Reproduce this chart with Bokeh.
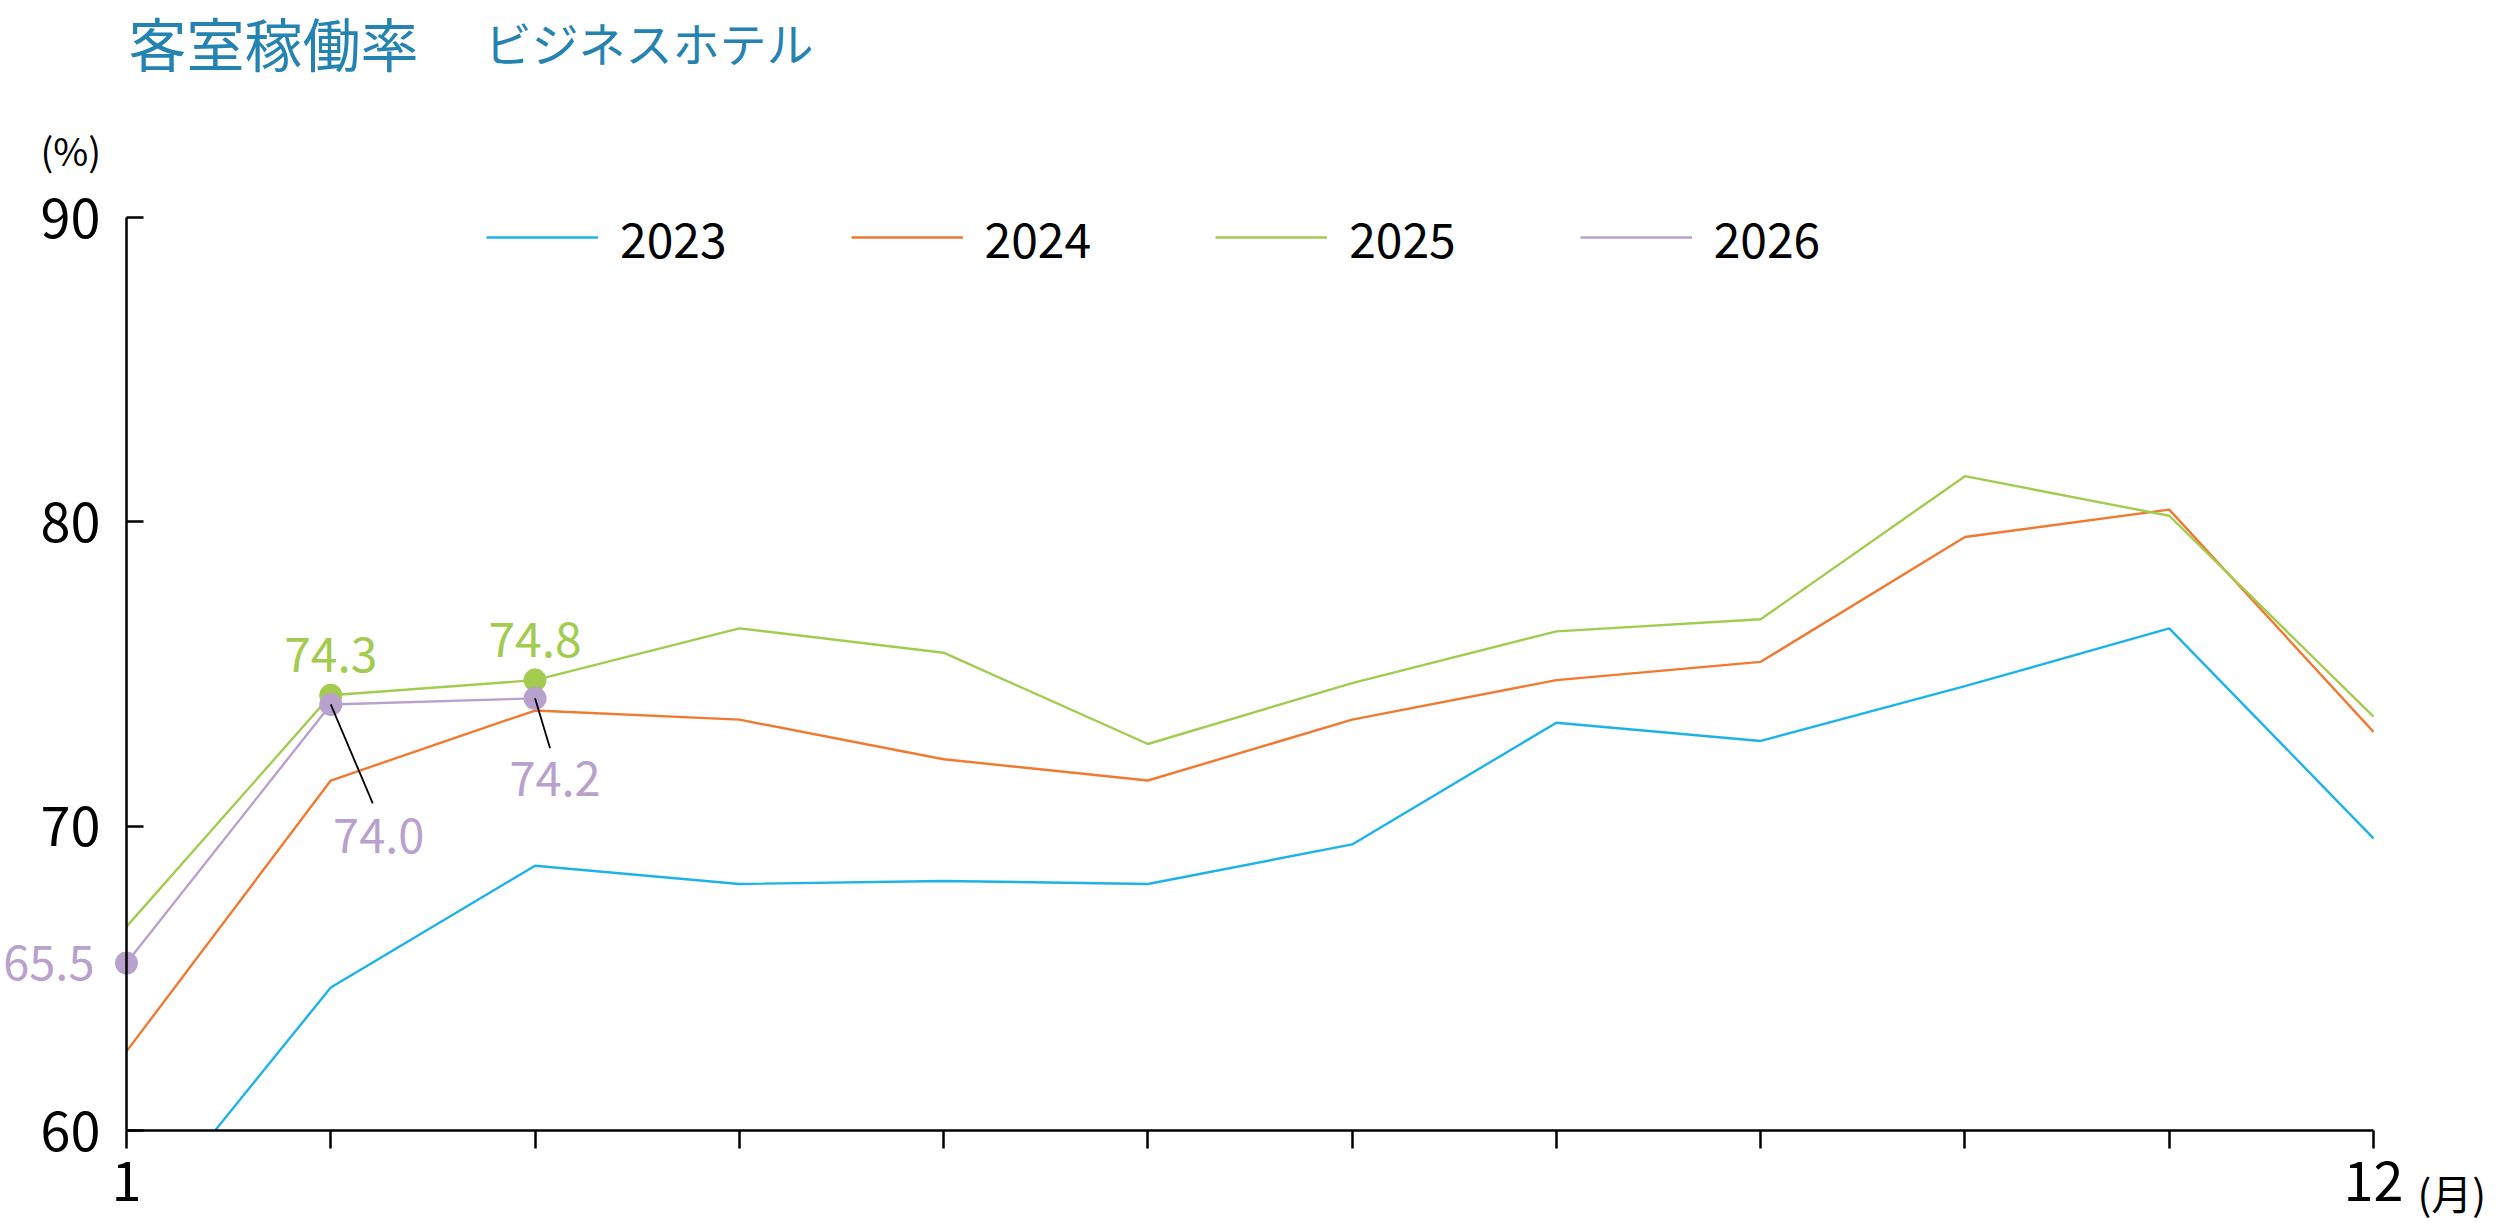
from bokeh.plotting import figure
from bokeh.models import FixedTicker, Legend, LegendItem, Label, ColumnDataSource, Range1d
from bokeh.embed import file_html
from bokeh.resources import INLINE
from bokeh.core.properties import value

# ---------------- data ----------------
months = list(range(1, 13))
occ_2023 = [56.4, 64.7, 68.7, 68.1, 68.2, 68.1, 69.4, 73.4, 72.8, 74.6, 76.5, 69.6]
occ_2024 = [62.6, 71.5, 73.8, 73.5, 72.2, 71.5, 73.5, 74.8, 75.4, 79.5, 80.4, 73.1]
occ_2025 = [66.7, 74.3, 74.8, 76.5, 75.7, 72.7, 74.7, 76.4, 76.8, 81.5, 80.2, 73.6]
occ_2026 = [65.5, 74.0, 74.2]
years = ["2023", "2024", "2025", "2026"]
y_ticks = [60, 70, 80, 90]
x_tick_labels = {1: "1", 12: "12"}
title_main = "客室稼働率"
title_sub = "ビジネスホテル"
y_unit = "(%)"
x_unit = "(月)"

# labelled points
lab25_months = [2, 3]
lab26_months = [1, 2, 3]

# ---------------- styles / layout ----------------
colors = {"2023": "#1DB3E8", "2024": "#EF7A30", "2025": "#A2CB4F", "2026": "#B9A1CD"}
title_color = "#2483B0"
NUM_FONT = "Noto Sans CJK JP"
JP_FONT = "Noto Sans CJK JP"

W, H = 2500, 1225
AX_LEFT_PX, AX_RIGHT_PX = 126, 2373      # pixel columns of month 1 and month 12
AX_TOP_PX, AX_BOTTOM_PX = 217, 1130      # pixel rows of 90 % and 60 %
X_MIN, X_MAX, Y_MIN, Y_MAX = 1, 12, 60, 90
px_per_x = (AX_RIGHT_PX - AX_LEFT_PX) / (X_MAX - X_MIN)
px_per_y = (AX_BOTTOM_PX - AX_TOP_PX) / (Y_MAX - Y_MIN)
x_start = X_MIN - AX_LEFT_PX / px_per_x
x_end = X_MAX + (W - AX_RIGHT_PX) / px_per_x
y_start = Y_MIN - (H - AX_BOTTOM_PX) / px_per_y
y_end = Y_MAX + AX_TOP_PX / px_per_y

p = figure(width=W, height=H, x_range=Range1d(x_start, x_end), y_range=Range1d(y_start, y_end),
           output_backend="svg", toolbar_location=None,
           min_border_left=0, min_border_right=0, min_border_top=0, min_border_bottom=0)
p.outline_line_color = None
p.xgrid.visible = False
p.ygrid.visible = False
p.background_fill_color = "white"
p.border_fill_color = "white"

# lines
series = {"2023": occ_2023, "2024": occ_2024, "2025": occ_2025, "2026": occ_2026}
renderers = {}
for yr in years:
    vals = series[yr]
    renderers[yr] = p.line(months[:len(vals)], vals, line_color=colors[yr], line_width=2.4)

# plot-area clip below the x axis (values under 60 % are cut off at the axis)
p.quad(left=[x_start], right=[x_end], bottom=[y_start], top=[Y_MIN],
       fill_color="white", line_color=None)

# axes (drawn inside the frame at fixed positions)
p.yaxis.fixed_location = X_MIN
p.yaxis.bounds = (Y_MIN, Y_MAX)
p.yaxis.ticker = FixedTicker(ticks=y_ticks)
p.yaxis.major_tick_in = 17
p.yaxis.major_tick_out = 0
p.yaxis.minor_tick_line_color = None
p.yaxis.axis_line_width = 2.5
p.yaxis.major_tick_line_width = 2.5
p.yaxis.axis_line_color = "black"
p.yaxis.major_tick_line_color = "black"
p.yaxis.major_label_text_font = NUM_FONT
p.yaxis.major_label_text_font_size = "54px"
p.yaxis.major_label_text_color = "black"
p.yaxis.major_label_standoff = 26

p.xaxis.fixed_location = Y_MIN
p.xaxis.bounds = (X_MIN, X_MAX)
p.xaxis.ticker = FixedTicker(ticks=months)
p.xaxis.major_label_overrides = {m: x_tick_labels.get(m, "") for m in months}
p.xaxis.major_tick_in = 0
p.xaxis.major_tick_out = 18
p.xaxis.minor_tick_line_color = None
p.xaxis.axis_line_width = 2.5
p.xaxis.major_tick_line_width = 2.5
p.xaxis.axis_line_color = "black"
p.xaxis.major_tick_line_color = "black"
p.xaxis.major_label_text_font = NUM_FONT
p.xaxis.major_label_text_font_size = "54px"
p.xaxis.major_label_text_color = "black"
p.xaxis.major_label_standoff = 12

# markers
g_src = ColumnDataSource(dict(x=lab25_months, y=[occ_2025[m - 1] for m in lab25_months],
                              t=[f"{occ_2025[m - 1]:.1f}" for m in lab25_months]))
u_src = ColumnDataSource(dict(x=lab26_months, y=[occ_2026[m - 1] for m in lab26_months],
                              t=[f"{occ_2026[m - 1]:.1f}" for m in lab26_months]))
p.scatter("x", "y", source=g_src, size=23, fill_color=colors["2025"], line_color=None)
p.scatter("x", "y", source=u_src, size=23, fill_color=colors["2026"], line_color=None)

# leader lines (label anchor offsets, converted from px)
lead_dx_px = [42, 15]
lead_dy_px = [99, 50]
lx = lab26_months[1:]
ly = [occ_2026[m - 1] for m in lx]
p.segment(x0=lx, y0=ly,
          x1=[x + d / px_per_x for x, d in zip(lx, lead_dx_px)],
          y1=[y - d / px_per_y for y, d in zip(ly, lead_dy_px)],
          line_color="black", line_width=1.8)

# value labels
p.text("x", "y", "t", source=g_src, text_font=value(NUM_FONT), text_font_size="48px",
       text_color=colors["2025"], text_align="center", text_baseline="alphabetic", y_offset=-41)
u_src.data.update(xo=[-32, 48, 20], yo=[0, 132, 81],
                  al=["right", "center", "center"], bl=["middle", "alphabetic", "alphabetic"])
p.text("x", "y", "t", source=u_src, text_font=value(NUM_FONT), text_font_size="47px",
       text_color=colors["2026"], text_align="al", text_baseline="bl",
       x_offset="xo", y_offset="yo")

# legend
legend = Legend(items=[LegendItem(label=yr, renderers=[renderers[yr]]) for yr in years],
                orientation="horizontal", location=(486, 953),
                glyph_width=112, glyph_height=60, label_height=60, label_standoff=22, spacing=124,
                label_text_font=NUM_FONT, label_text_font_size="48px", label_text_color="black",
                label_text_baseline="middle",
                padding=0, margin=0, border_line_color=None, background_fill_alpha=0)
p.add_layout(legend)

# titles & units (canvas units: x from left, y from top)
p.add_layout(Label(x=128, y=41, x_units="canvas", y_units="canvas", text=title_main,
                   text_font=JP_FONT, text_font_size="58px", text_color=title_color,
                   text_baseline="middle"))
p.add_layout(Label(x=484, y=41, x_units="canvas", y_units="canvas", text=title_sub,
                   text_font=JP_FONT, text_font_size="47px", text_color=title_color,
                   text_baseline="middle"))
p.add_layout(Label(x=40, y=149, x_units="canvas", y_units="canvas", text=y_unit,
                   text_font=NUM_FONT, text_font_size="38px", text_color="black",
                   text_baseline="middle"))
p.add_layout(Label(x=2417, y=1191, x_units="canvas", y_units="canvas", text=x_unit,
                   text_font=JP_FONT, text_font_size="41px", text_color="black",
                   text_baseline="middle"))

open("out.html", "w").write(file_html(p, INLINE))
